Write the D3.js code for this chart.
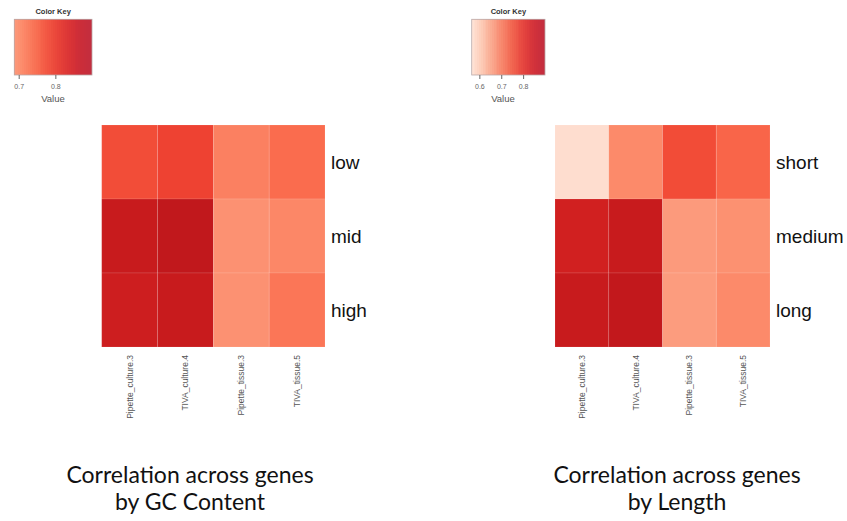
<!DOCTYPE html>
<html>
<head>
<meta charset="utf-8">
<script src="https://cdn.jsdelivr.net/npm/d3@7"></script>
<style>
  body { margin: 0; background: #fff; }
  svg { display: block; }
</style>
</head>
<body>
<svg id="chart" width="847" height="521"></svg>
<script>
// data
const columns = ["Pipette_culture.3", "TIVA_culture.4", "Pipette_tissue.3", "TIVA_tissue.5"];

const gcRows = ["low", "mid", "high"];
const gcValues = [
  [0.796, 0.810, 0.726, 0.754],
  [0.881, 0.891, 0.702, 0.716],
  [0.872, 0.881, 0.702, 0.740]
];
const gcKeyRange = [0.688, 0.9];
const gcKeyTicks = [0.7, 0.8];

const lengthRows = ["short", "medium", "long"];
const lengthValues = [
  [0.577, 0.709, 0.795, 0.761],
  [0.866, 0.881, 0.685, 0.699],
  [0.881, 0.890, 0.682, 0.709]
];
const lengthKeyRange = [0.565, 0.9];
const lengthKeyTicks = [0.6, 0.7, 0.8];

const svg = d3.select("#chart");

function drawPanel(opts) {
  const g = svg.append("g");

  // value -> position on the Reds ramp
  const tScale = d3.scaleLinear().domain(opts.keyRange).range(opts.tRange).clamp(true);
  const color = v => d3.interpolateReds(tScale(v));

  // ---- colour key
  const kx = d3.scaleLinear().domain(opts.keyRange).range([opts.key.x0, opts.key.x1]);
  const n = 40;
  const stepV = (opts.keyRange[1] - opts.keyRange[0]) / n;
  const steps = d3.range(n).map(i => opts.keyRange[0] + i * stepV);
  const key = g.append("g");
  key.selectAll("rect.k")
    .data(steps)
    .enter()
    .append("rect")
    .attr("class", "k")
    .attr("x", d => kx(d))
    .attr("y", opts.key.y0)
    .attr("width", d => Math.min(kx(d + stepV) + 1, opts.key.x1) - kx(d))
    .attr("height", opts.key.y1 - opts.key.y0)
    .attr("shape-rendering", "crispEdges")
    .attr("fill", d => {
      const f = (d - opts.keyRange[0]) / (opts.keyRange[1] - opts.keyRange[0]);
      return d3.interpolateRgb(color(d + stepV / 2), "#c8405a")(f * f * 0.6);
    });
  key.append("rect")
    .attr("x", opts.key.x0)
    .attr("y", opts.key.y0)
    .attr("width", opts.key.x1 - opts.key.x0)
    .attr("height", opts.key.y1 - opts.key.y0)
    .attr("fill", "none")
    .attr("stroke", "#b9a9a9")
    .attr("stroke-width", 0.8);

  key.append("g")
    .attr("transform", `translate(0,${opts.key.y1})`)
    .call(d3.axisBottom(kx).tickValues(opts.keyTicks).tickSize(4).tickPadding(5).tickFormat(d3.format(".1f")))
    .call(a => a.select(".domain").remove())
    .call(a => a.selectAll("line").attr("stroke", "#666"))
    .call(a => a.selectAll("text")
      .attr("fill", "#666")
      .style("font-family", "Liberation Sans, Arial, sans-serif")
      .style("font-size", "7px"));

  key.append("text")
    .attr("x", (opts.key.x0 + opts.key.x1) / 2)
    .attr("y", 14)
    .attr("text-anchor", "middle")
    .style("font-family", "Liberation Sans, Arial, sans-serif")
    .style("font-size", "7.5px")
    .style("font-weight", "bold")
    .attr("fill", "#333")
    .text("Color Key");

  key.append("text")
    .attr("x", opts.key.valueX)
    .attr("y", 102)
    .attr("text-anchor", "middle")
    .style("font-family", "Liberation Sans, Arial, sans-serif")
    .style("font-size", "9.5px")
    .attr("fill", "#555")
    .text("Value");

  // ---- heatmap
  const x = d3.scaleBand().domain(columns).range([opts.x0, opts.x1]);
  const y = d3.scaleBand().domain(opts.rows).range([125, 347]);

  const cells = [];
  opts.values.forEach((row, i) => row.forEach((v, j) => {
    cells.push({row: opts.rows[i], col: columns[j], value: v});
  }));

  g.selectAll("rect.cell")
    .data(cells)
    .enter()
    .append("rect")
    .attr("class", "cell")
    .attr("x", d => x(d.col))
    .attr("y", d => y(d.row))
    .attr("width", x.bandwidth())
    .attr("height", y.bandwidth())
    .attr("fill", d => color(d.value))
    .attr("stroke", "#ffffff")
    .attr("stroke-opacity", 0.14)
    .attr("stroke-width", 0.8);

  // row labels on the right
  g.selectAll("text.row")
    .data(opts.rows)
    .enter()
    .append("text")
    .attr("class", "row")
    .attr("x", opts.x1 + 6)
    .attr("y", d => y(d) + y.bandwidth() / 2)
    .attr("dy", "0.35em")
    .style("font-family", "Liberation Sans, Arial, sans-serif")
    .style("font-size", "19px")
    .attr("fill", "#111")
    .text(d => d);

  // column labels, rotated
  g.selectAll("text.col")
    .data(columns)
    .enter()
    .append("text")
    .attr("class", "col")
    .attr("transform", d => `translate(${x(d) + x.bandwidth() / 2 + 3},355) rotate(-90)`)
    .attr("text-anchor", "end")
    .style("font-family", "Liberation Sans, Arial, sans-serif")
    .style("font-size", "8.5px")
    .attr("fill", "#555")
    .text(d => d);

  // caption
  const cap = g.append("text")
    .attr("text-anchor", "middle")
    .style("font-family", "Lato, 'Open Sans', sans-serif")
    .style("font-size", "23px")
    .attr("fill", "#111");
  cap.append("tspan").attr("x", opts.capX).attr("y", 483).text("Correlation across genes");
  cap.append("tspan").attr("x", opts.capX).attr("y", 510).text(opts.caption);
}

drawPanel({
  rows: gcRows, values: gcValues, keyRange: gcKeyRange, keyTicks: gcKeyTicks,
  tRange: [0.35, 0.8],
  key: {x0: 14.3, x1: 92, y0: 19.3, y1: 75, valueX: 53},
  x0: 101.7, x1: 325, capX: 190, caption: "by GC Content"
});

drawPanel({
  rows: lengthRows, values: lengthValues, keyRange: lengthKeyRange, keyTicks: lengthKeyTicks,
  tRange: [0.1, 0.8],
  key: {x0: 471.7, x1: 545, y0: 19.3, y1: 75, valueX: 503},
  x0: 555, x1: 770, capX: 677, caption: "by Length"
});
</script>
</body>
</html>
